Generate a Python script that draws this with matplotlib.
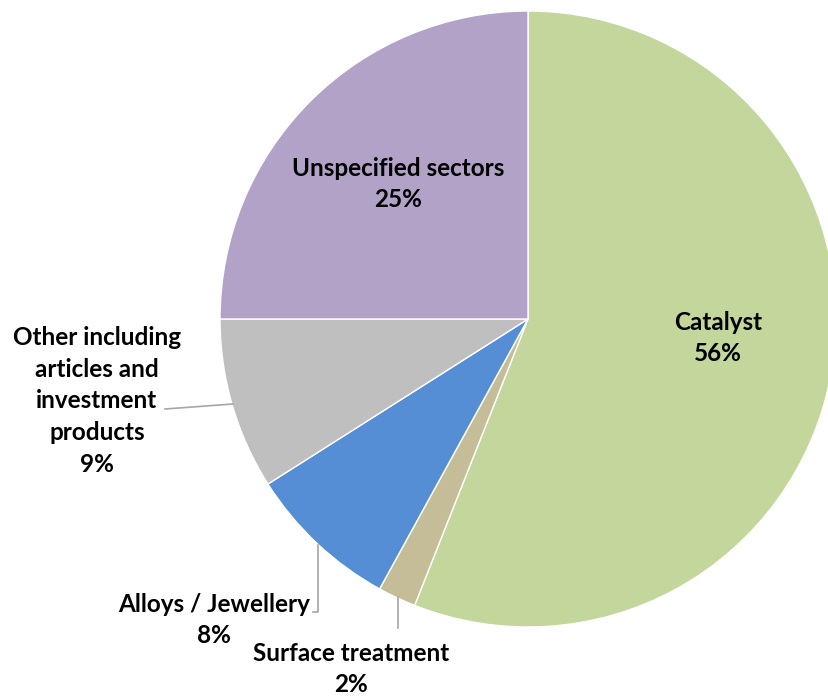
import matplotlib
matplotlib.use("Agg")
import matplotlib.pyplot as plt

# data
labels = ["Catalyst", "Surface treatment", "Alloys / Jewellery",
          "Other including\narticles and\ninvestment\nproducts", "Unspecified sectors"]
shares = [56, 2, 8, 9, 25]
colors = ["#C3D69B", "#C4BD97", "#558ED5", "#BFBFBF", "#B3A2C7"]

W, H = 829, 696
fig = plt.figure(figsize=(W / 100, H / 100), dpi=100)
ax = fig.add_axes([0, 0, 1, 1])

cx, cy, r = 528, H - 319, 308
ax.pie(shares, colors=colors, startangle=90, counterclock=False,
       center=(cx, cy), radius=r, frame=True,
       wedgeprops=dict(edgecolor="white", linewidth=1))
ax.set_xlim(0, W)
ax.set_ylim(0, H)
ax.set_aspect("equal")
ax.axis("off")

font = dict(family="Lato", fontweight="bold", fontsize=17.5, color="black",
            ha="center", va="center", linespacing=1.45)

def lab(x, y, i):
    ax.text(x, H - y, f"{labels[i]}\n{shares[i]}%", **font)

lab(718, 338, 0)
lab(398, 184, 4)
lab(97, 401, 3)
lab(214, 620, 2)
lab(351, 669, 1)

# leader lines
lc = "#A6A6A6"
ax.plot([165, 233], [H - 409, H - 404], color=lc, lw=1.2)
ax.plot([318, 318, 313], [H - 545, H - 612, H - 612], color=lc, lw=1.2)
ax.plot([398, 398], [H - 597, H - 628], color=lc, lw=1.2)

fig.savefig("out.png", dpi=100)
